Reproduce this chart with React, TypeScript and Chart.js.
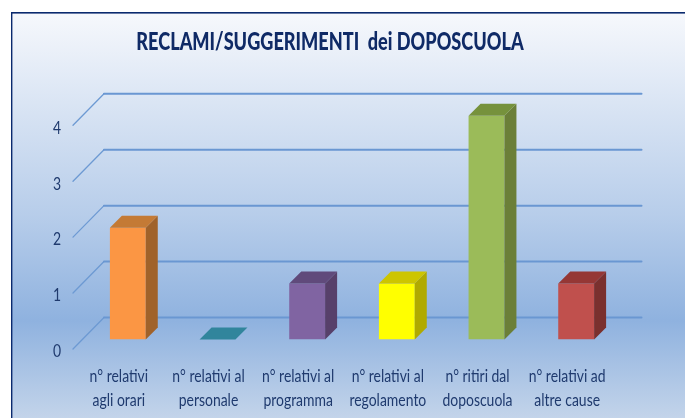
import React, { useEffect, useRef } from "react";
import { Chart, registerables } from "chart.js";

Chart.register(...registerables);

const categories: string[][] = [
  ["n° relativi", "agli orari"],
  ["n° relativi al", "personale"],
  ["n° relativi al", "programma"],
  ["n° relativi al", "regolamento"],
  ["n° ritiri dal", "doposcuola"],
  ["n° relativi ad", "altre cause"],
];
const values = [2, 0, 1, 1, 4, 1];
const yTicks = [0, 1, 2, 3, 4];
const titleText = "RECLAMI/SUGGERIMENTI  dei DOPOSCUOLA";

const frontColors = ["#fb9644", "#4bacc6", "#8064a2", "#ffff00", "#9bbb59", "#c0504d"];
const topColors = ["#c47a35", "#31859c", "#604a7b", "#cdc500", "#76923c", "#953735"];
const sideColors = ["#a0622a", "#2a7080", "#57406a", "#b0aa00", "#6b7f38", "#7a302e"];

const DEPTH = 12;
const FONT = "Lato, sans-serif";
const TITLE_SQUEEZE = 0.755;
const LABEL_SQUEEZE = 0.775;

const backdrop = {
  id: "backdrop",
  beforeDraw(chart: any) {
    const { ctx, width, height } = chart;
    ctx.save();
    ctx.fillStyle = "#ffffff";
    ctx.fillRect(0, 0, width, height);
    const g = ctx.createLinearGradient(0, 13, 0, height);
    g.addColorStop(0, "#f6f8fc");
    g.addColorStop(0.5, "#b7cdea");
    g.addColorStop(0.76, "#8fb2df");
    g.addColorStop(1, "#c3d4ea");
    ctx.fillStyle = g;
    ctx.fillRect(11, 12, width - 11, height - 12);
    ctx.fillStyle = "#0a2a6e";
    ctx.fillRect(11, 12, width - 11, 1.6);
    ctx.fillRect(11, 12, 1.4, height - 12);
    ctx.restore();
  },
};

const walls = {
  id: "walls",
  beforeDatasetsDraw(chart: any) {
    const { ctx, scales } = chart;
    const y = scales.y;
    const x0 = 73;
    const x1 = 104;
    const x2 = 641.5;
    ctx.save();
    ctx.lineCap = "round";
    yTicks.forEach((v) => {
      const py = y.getPixelForValue(v);
      ctx.strokeStyle = "#6d9ad3";
      ctx.lineWidth = 1.3;
      ctx.beginPath();
      ctx.moveTo(x0, py + 9.5);
      ctx.lineTo(x1, py - 22);
      ctx.stroke();
      ctx.strokeStyle = "#6a97d2";
      ctx.lineWidth = 2;
      ctx.beginPath();
      ctx.moveTo(x1, py - 22);
      ctx.lineTo(x2, py - 22);
      ctx.stroke();
    });
    ctx.restore();
  },
};

const boxes = {
  id: "boxes",
  afterDatasetsDraw(chart: any) {
    const { ctx } = chart;
    const meta = chart.getDatasetMeta(0);
    ctx.save();
    meta.data.forEach((bar: any, i: number) => {
      const left = bar.x - bar.width / 2;
      const right = bar.x + bar.width / 2;
      const top = bar.y;
      const base = bar.base;
      if (base - top > 0.5) {
        ctx.fillStyle = sideColors[i];
        ctx.beginPath();
        ctx.moveTo(right, top);
        ctx.lineTo(right + DEPTH, top - DEPTH);
        ctx.lineTo(right + DEPTH, base - DEPTH);
        ctx.lineTo(right, base);
        ctx.closePath();
        ctx.fill();
      }
      ctx.fillStyle = topColors[i];
      ctx.beginPath();
      ctx.moveTo(left, top);
      ctx.lineTo(left + DEPTH, top - DEPTH);
      ctx.lineTo(right + DEPTH, top - DEPTH);
      ctx.lineTo(right, top);
      ctx.closePath();
      ctx.fill();
    });
    ctx.restore();
  },
};

// The reference uses a condensed face; squeeze real text horizontally about its anchor.
function condenseText(ctx: any) {
  const original = ctx.fillText.bind(ctx);
  ctx.fillText = (text: string, x: number, y: number) => {
    const k = String(ctx.font).includes("900") ? TITLE_SQUEEZE : LABEL_SQUEEZE;
    ctx.save();
    ctx.translate(x, y);
    ctx.scale(k, 1);
    original(text, 0, 0);
    ctx.restore();
  };
}

export default function App() {
  const ref = useRef<HTMLCanvasElement>(null);
  useEffect(() => {
    condenseText(ref.current!.getContext("2d"));
    const chart = new Chart(ref.current!, {
      type: "bar",
      data: {
        labels: categories as any,
        datasets: [
          {
            data: values,
            backgroundColor: frontColors,
            borderWidth: 0,
            barPercentage: 0.4,
            categoryPercentage: 1,
          },
        ],
      },
      plugins: [backdrop, walls, boxes],
      options: {
        animation: false,
        responsive: false,
        layout: { padding: { left: 39, right: 64, top: 28, bottom: 0 } },
        plugins: {
          legend: { display: false },
          tooltip: { enabled: false },
          title: {
            display: true,
            text: titleText,
            color: "#0f2a66",
            font: { family: FONT, size: 24, weight: "900" },
            padding: { top: 0, bottom: 59 },
          },
        },
        scales: {
          x: {
            grid: { display: false },
            border: { display: false },
            afterFit(s: any) {
              s.height = 78.5;
            },
            ticks: {
              color: "#1f3a6e",
              font: { family: FONT, size: 18, lineHeight: 1.31 },
              labelOffset: -9,
              padding: 17,
              maxRotation: 0,
              autoSkip: false,
            },
          },
          y: {
            min: 0,
            max: 4,
            grid: { display: false },
            border: { display: false },
            afterFit(s: any) {
              s.width = 44;
            },
            ticks: {
              stepSize: 1,
              color: "#1f3a6e",
              font: { family: FONT, size: 18 },
              labelOffset: 12,
              padding: 14,
            },
          },
        },
      },
    } as any);
    return () => chart.destroy();
  }, []);
  return (
    <canvas
      ref={ref}
      width={685}
      height={418}
      style={{ position: "absolute", left: 0, top: 0, display: "block" }}
    />
  );
}
